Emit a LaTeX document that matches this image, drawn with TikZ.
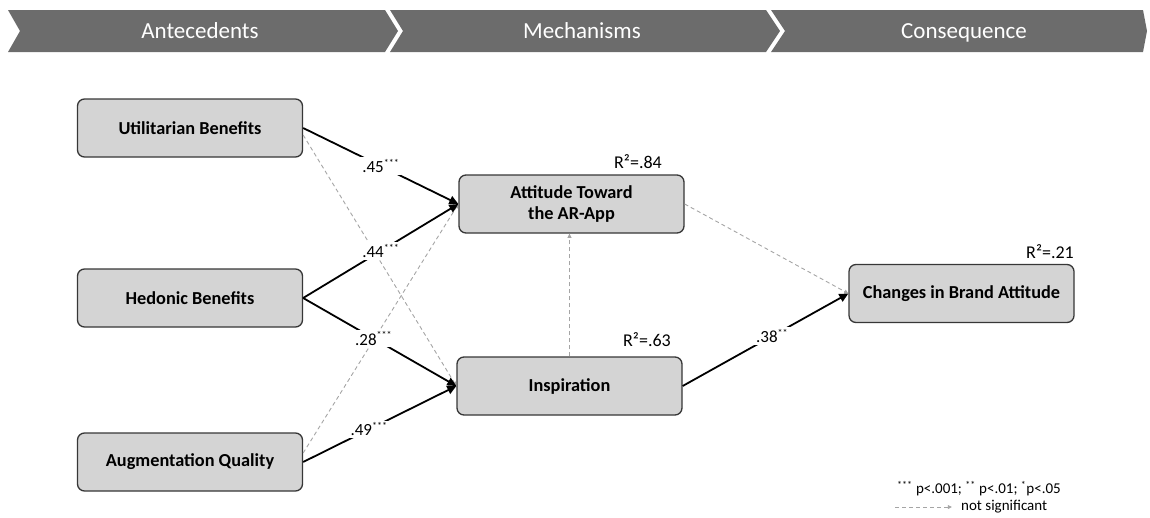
\documentclass[tikz,border=0pt]{standalone}
\usepackage{fontspec}
\setmainfont{Carlito}
\usetikzlibrary{arrows.meta,
                bending}

\definecolor{bannergray}{RGB}{108,108,108}
\definecolor{boxgray}{RGB}{212,212,212}
\definecolor{boxline}{RGB}{55,55,55}
\definecolor{nsgray}{RGB}{165,165,165}

\newcommand{\stars}[1]{\textsuperscript{\fontsize{10}{10}\selectfont #1}}

\begin{document}
\begin{tikzpicture}[x=1pt, y=-1pt,
construct/.style = {draw=boxline, line width=1.3pt, fill=boxgray,
                    rounded corners=7pt, minimum width=225pt,
                    minimum height=58pt, align=center,
                    font=\fontsize{18.3}{21}\selectfont\bfseries},
sig/.style = {draw, line width=1.8pt, -{Triangle[angle=50:1pt 5,flex]}},
nonsig/.style = {draw=nsgray, line width=0.9pt, dash pattern=on 4pt off 3pt,
                 -{Triangle[angle=50:1pt 4]}, nsgray},
coef/.style = {fill=white, inner sep=2pt, font=\fontsize{17}{19}\selectfont},
rsq/.style = {font=\fontsize{18}{20}\selectfont},
phase/.style = {text=white, anchor=base, font=\fontsize{23}{26}\selectfont},
legend/.style = {font=\fontsize{15}{17}\selectfont, inner sep=1pt}
                            ]
\useasboundingbox (0,0) rectangle (1150,517);
% banner
\fill[bannergray] (8,10) -- (385,10) -- (398,31) -- (385,52) -- (8,52) -- (20,31) -- cycle;
\fill[bannergray] (390,10) -- (766,10) -- (780,31) -- (766,52) -- (390,52) -- (403,31) -- cycle;
\fill[bannergray] (771,10) -- (1143,10) -- (1147,31) -- (1143,52) -- (771,52) -- (785,31) -- cycle;
\node[phase] (antec) at (200,38) {Antecedents};
\node[phase] (mech)  at (582,38) {Mechanisms};
\node[phase] (conseq) at (964,38) {Consequence};
% constructs
\node[construct] (util)  at (190,128)   {Utilitarian Benefits};
\node[construct] (hedon) at (190,298)   {Hedonic Benefits};
\node[construct] (augm)  at (190,462)   {Augmentation Quality};
\node[construct] (atti)  at (571.5,204) {Attitude Toward\\the AR-App};
\node[construct] (insp)  at (569.5,386) {Inspiration};
\node[construct] (brand) at (961.5,293.5) {Changes in Brand Attitude};
\node[rsq] (r2atti)  at (638,162)  {R²=.84};
\node[rsq] (r2insp)  at (647,340)  {R²=.63};
\node[rsq] (r2brand) at (1050,252) {R²=.21};
% non-significant paths
\draw[nonsig] ([yshift=-7pt]util.east) -- (insp.west);
\draw[nonsig] ([yshift=9pt]augm.east) -- (atti.west);
\draw[nonsig] (insp.north) -- (insp.north |- atti.south);
\draw[nonsig] (atti.east) -- (brand.west);
% significant paths
\draw[sig] (util.east)  -- node[coef] {.45\stars{***}} (atti.west);
\draw[sig] (hedon.east) -- node[coef] {.44\stars{***}} (atti.west);
\draw[sig] (hedon.east) -- node[coef, pos=.46] {.28\stars{***}} (insp.west);
\draw[sig] (augm.east)  -- node[coef, pos=.43] {.49\stars{***}} (insp.west);
\draw[sig] (insp.east)  -- node[coef, pos=.54] {.38\stars{**}} (brand.west);
% legend
\node[legend] (pvals) at (979,489)
    {\stars{***} p<.001; \stars{**} p<.01; \stars{*}p<.05};
\coordinate (nsstart) at (895,507);
\node[legend, anchor=west] (nslabel) at (960,507) {not significant};
\draw[nonsig] (nsstart) -- ([xshift=-8pt]nslabel.west);
\end{tikzpicture}
\end{document}
